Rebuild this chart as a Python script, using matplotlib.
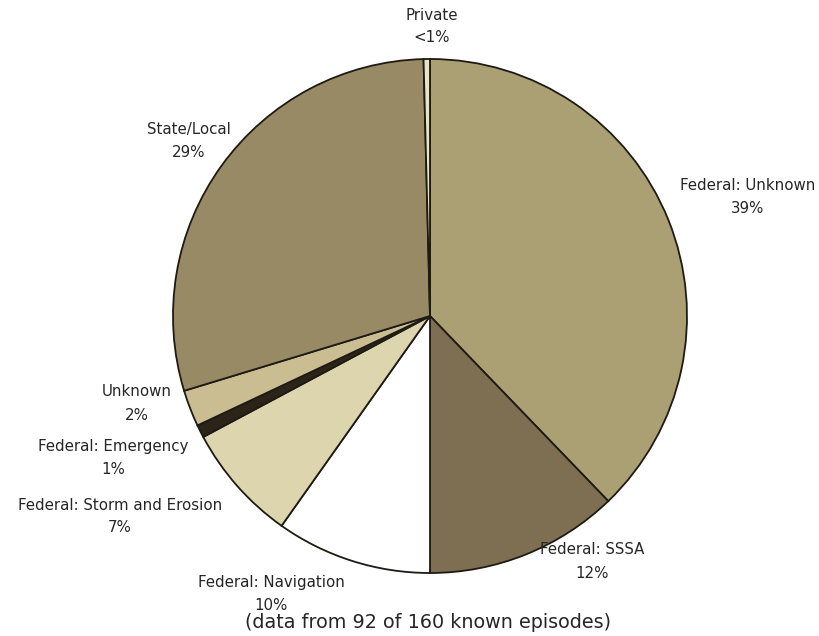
import matplotlib
matplotlib.use("Agg")
import matplotlib.pyplot as plt

# Slices, clockwise from 12 o'clock
categories = ["Federal: Unknown", "Federal: SSSA", "Federal: Navigation",
              "Federal: Storm and Erosion", "Federal: Emergency", "Unknown",
              "State/Local", "Private"]
shares = [37.8, 12.2, 9.8, 7.4, 0.8, 2.3, 29.3, 0.4]
pct_labels = ["39%", "12%", "10%", "7%", "1%", "2%", "29%", "<1%"]
colors = ["#ab9f74", "#7e6f53", "#ffffff", "#ddd5ad", "#2c2418",
          "#c9bd91", "#978a64", "#e9e3c6"]

caption = "(data from 92 of 160 known episodes)"

W, H = 820, 636
fig = plt.figure(figsize=(8.2, 6.36), dpi=100)
fig.patch.set_facecolor("white")
ax = fig.add_axes([0, 0, 1, 1])

cx, cy, r = 430, H - 316, 257
ax.pie(shares, colors=colors, startangle=90, counterclock=False,
       center=(cx, cy), radius=r, frame=True,
       wedgeprops=dict(edgecolor="#1e1a14", linewidth=1.3))
ax.set_xlim(0, W)
ax.set_ylim(0, H)
ax.set_aspect("equal")
ax.axis("off")

# label positions (pixel coords, y from top)
label_pos = {
    "Federal: Unknown": (748, 186),
    "Federal: SSSA": (592, 550),
    "Federal: Navigation": (271, 583),
    "Federal: Storm and Erosion": (120, 505),
    "Federal: Emergency": (113, 447),
    "Unknown": (137, 392),
    "State/Local": (189, 130),
    "Private": (432, 15),
}
font = ["DejaVu Sans"]
for cat, pct in zip(categories, pct_labels):
    x, y = label_pos[cat]
    ax.text(x, H - y, cat, ha="center", va="center", fontsize=10.8,
            family=font, color="#262626")
    ax.text(x, H - (y + 23), pct, ha="center", va="center", fontsize=10.8,
            family=font, color="#262626")

ax.text(428, H - 622, caption, ha="center", va="center", fontsize=13.8,
        family=font, color="#262626")

fig.savefig("out.png", dpi=100, facecolor="white")
